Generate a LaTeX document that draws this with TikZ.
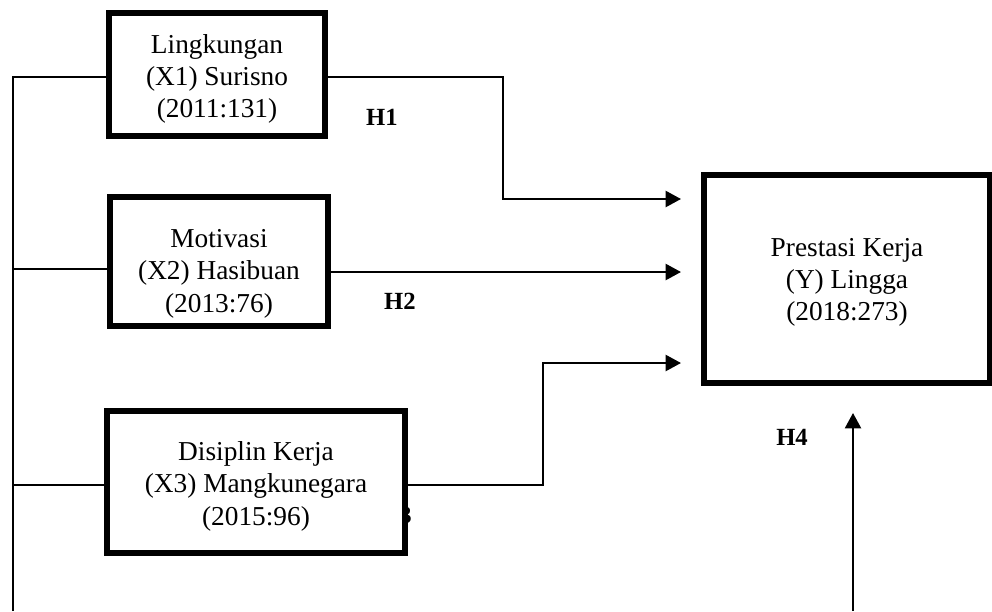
\documentclass[tikz,border=0pt]{standalone}
\usepackage{fontspec}
\setmainfont{Liberation Serif}
\usetikzlibrary{arrows.meta}
\newcommand{\shifted}[2]{\raisebox{#1}[0pt][0pt]{\begin{tabular}{@{}c@{}}#2\end{tabular}}}
\begin{document}
\begin{tikzpicture}[x=0.75pt,y=-0.75pt,
  varbox/.style={draw,line width=3.8pt,fill=white,inner sep=0pt,align=center,
    font=\fontsize{20.5}{24.3}\selectfont},
  hyp/.style={font=\fontsize{18.5}{20}\selectfont\bfseries,inner sep=0pt},
  conn/.style={line width=1.7pt},
  arr/.style={conn,-{Triangle[length=11.5pt,width=12pt]}},
  spine/.style={line width=1.2pt}]
\useasboundingbox (0,0) rectangle (992,611);
% hidden label under X3 box
\node[hyp,anchor=east] (h3) at (412,515) {H3};
% boxes
\node[varbox,minimum width=162pt,minimum height=92.25pt] (x1) at (217,74.5)
  {\shifted{-8.5pt}{Lingkungan\\(X1) Surisno\\(2011:131)}};
\node[varbox,minimum width=163.5pt,minimum height=96.75pt] (x2) at (219,261.5)
  {\shifted{-14pt}{Motivasi\\(X2) Hasibuan\\(2013:76)}};
\node[varbox,minimum width=223.5pt,minimum height=106.5pt] (x3) at (256,482)
  {\shifted{-8.5pt}{Disiplin Kerja\\(X3) Mangkunegara\\(2015:96)}};
\node[varbox,minimum width=214.5pt,minimum height=156pt] (y) at (847,279)
  {\shifted{-7.4pt}{Prestasi Kerja\\(Y) Lingga\\(2018:273)}};
% hypothesis labels
\node[hyp] (h1) at (382,117) {H1};
\node[hyp] (h2) at (400,301) {H2};
\node[hyp] (h4) at (792,437) {H4};
% coordinates
\coordinate (t1) at (681,199);
\coordinate (t2) at (681,272);
\coordinate (t3) at (681,363);
\coordinate (t4) at (853,413);
\coordinate (b4) at (853,611);
\coordinate (sTop) at (13,77);
\coordinate (sBot) at (13,611);
% connectors to Y
\draw[arr] (x1.east |- 0,77) -| (503,77) |- (t1);
\draw[arr] (x2.east |- t2) -- (t2);
\draw[arr] (x3.east |- 0,485) -| (543,485) |- (t3);
\draw[arr] (b4) -- (t4);
% left spine
\draw[spine] (sBot) -- (sTop) -- (x1.west |- sTop);
\draw[spine] (sTop |- 0,269) -- (x2.west |- 0,269);
\draw[spine] (sTop |- 0,485) -- (x3.west |- 0,485);
\end{tikzpicture}
\end{document}
